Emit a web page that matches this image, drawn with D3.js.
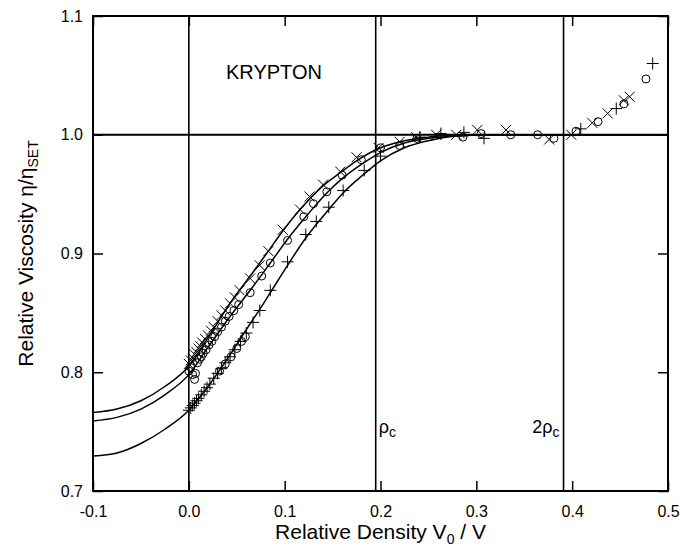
<!DOCTYPE html>
<html>
<head>
<meta charset="utf-8">
<script src="https://cdn.jsdelivr.net/npm/d3@7"></script>
<style>
  html, body { margin: 0; padding: 0; background: #fff; }
  svg { display: block; }
  text { font-family: "Liberation Sans", Arial, sans-serif; fill: #000; }
</style>
</head>
<body>
<div id="chart"></div>
<script>
// Krypton viscosity vs relative density

const xTicks = [-0.1, 0.0, 0.1, 0.2, 0.3, 0.4, 0.5];
const yTicks = [0.7, 0.8, 0.9, 1.0, 1.1];

// reference lines: zero density, rho_c, 2 rho_c, and eta/eta_SET = 1
const refX = [0.0, 0.195, 0.391];
const refY = [1.0];

// fitted curves [V0/V, eta/etaSET]
const curveUpper = [[-0.1,0.766],[-0.075,0.769],[-0.05,0.776],[-0.025,0.788],[0,0.805],[0.02,0.829],[0.043,0.858],[0.064,0.881],[0.083,0.902],[0.098,0.919],[0.116,0.937],[0.14,0.957],[0.158,0.968],[0.175,0.978],[0.2,0.989],[0.225,0.995],[0.25,0.998],[0.28,1.0],[0.32,1.0],[0.5,1.0]];
const curveMiddle = [[-0.1,0.759],[-0.075,0.762],[-0.05,0.769],[-0.025,0.781],[0,0.798],[0.02,0.821],[0.043,0.847],[0.064,0.869],[0.085,0.892],[0.103,0.912],[0.12,0.929],[0.144,0.951],[0.16,0.963],[0.18,0.975],[0.2,0.985],[0.225,0.993],[0.25,0.997],[0.28,0.999],[0.31,1.0],[0.5,1.0]];
const curveLower = [[-0.1,0.7295],[-0.075,0.732],[-0.05,0.74],[-0.025,0.752],[0,0.768],[0.02,0.788],[0.04,0.811],[0.06,0.836],[0.074,0.853],[0.085,0.867],[0.103,0.89],[0.122,0.913],[0.146,0.937],[0.161,0.951],[0.183,0.967],[0.2,0.978],[0.225,0.989],[0.25,0.995],[0.28,0.999],[0.32,1.0],[0.5,1.0]];

// measured points, one array per symbol
const timesPts = [[0.000,0.807],[0.002,0.810],[0.004,0.812],[0.006,0.815],[0.008,0.817],[0.010,0.820],[0.012,0.822],[0.014,0.825],[0.017,0.828],[0.020,0.831],[0.023,0.835],[0.026,0.838],[0.030,0.843],[0.034,0.848],[0.038,0.852],[0.043,0.858],[0.048,0.863],[0.053,0.869],[0.064,0.879],[0.074,0.890],[0.083,0.902],[0.098,0.920],[0.116,0.937],[0.126,0.948],[0.140,0.958],[0.158,0.969],[0.175,0.981],[0.198,0.989],[0.220,0.994],[0.237,0.998],[0.258,1.000],[0.279,1.000],[0.301,1.004],[0.331,1.004],[0.376,0.996],[0.399,1.000],[0.421,1.010],[0.437,1.018],[0.454,1.029],[0.460,1.032]];
const circlePts = [[0.000,0.801],[0.002,0.804],[0.004,0.798],[0.006,0.794],[0.007,0.799],[0.009,0.808],[0.011,0.811],[0.013,0.813],[0.015,0.816],[0.018,0.819],[0.021,0.823],[0.024,0.826],[0.027,0.830],[0.030,0.834],[0.034,0.838],[0.038,0.843],[0.042,0.847],[0.047,0.852],[0.052,0.857],[0.064,0.867],[0.076,0.881],[0.085,0.892],[0.103,0.911],[0.120,0.931],[0.130,0.942],[0.144,0.952],[0.160,0.966],[0.180,0.979],[0.200,0.989],[0.220,0.991],[0.238,0.997],[0.286,0.998],[0.305,1.001],[0.336,1.000],[0.364,1.000],[0.381,0.997],[0.404,1.003],[0.427,1.011],[0.454,1.026],[0.477,1.047],[0.032,0.801],[0.038,0.807],[0.044,0.813],[0.050,0.820],[0.055,0.826],[0.059,0.830]];
const plusPts = [[0.000,0.768],[0.002,0.770],[0.004,0.772],[0.006,0.774],[0.008,0.776],[0.010,0.778],[0.013,0.781],[0.016,0.784],[0.019,0.787],[0.022,0.790],[0.026,0.795],[0.030,0.799],[0.034,0.803],[0.038,0.808],[0.043,0.813],[0.048,0.819],[0.054,0.826],[0.060,0.833],[0.067,0.842],[0.074,0.852],[0.085,0.869],[0.103,0.893],[0.122,0.916],[0.133,0.927],[0.146,0.939],[0.161,0.953],[0.183,0.970],[0.200,0.982],[0.241,0.998],[0.263,1.001],[0.287,1.002],[0.308,0.997],[0.409,1.005],[0.446,1.022],[0.484,1.060]];

const config = {
  width: 682,
  height: 547,
  plot: { left: 93, right: 668, top: 16, bottom: 491 },
  fontSize: { tick: "16px", title: "21px", label: "20px", ref: "18px", sub: "14px" }
};

const svg = d3.select("#chart").append("svg")
  .attr("width", config.width)
  .attr("height", config.height)
  .style("background", "#ffffff");

const x = d3.scaleLinear().domain([-0.1, 0.5]).range([config.plot.left, config.plot.right]);
const y = d3.scaleLinear().domain([0.7, 1.1]).range([config.plot.bottom, config.plot.top]);

svg.append("clipPath").attr("id", "plot-clip")
  .append("rect")
  .attr("x", config.plot.left).attr("y", config.plot.top)
  .attr("width", config.plot.right - config.plot.left)
  .attr("height", config.plot.bottom - config.plot.top);

// axes with inward ticks; plain hyphen for negatives
const fmt = d => d3.format(".1f")(d).replace("\u2212", "-");
const bottomAxis = svg.append("g")
  .attr("transform", `translate(0,${config.plot.bottom})`)
  .call(d3.axisBottom(x).tickValues(xTicks).tickSize(-10).tickPadding(15).tickFormat(fmt));
const leftAxis = svg.append("g")
  .attr("transform", `translate(${config.plot.left},0)`)
  .call(d3.axisLeft(y).tickValues(yTicks).tickSize(-10).tickPadding(10).tickFormat(fmt));
const topAxis = svg.append("g")
  .attr("transform", `translate(0,${config.plot.top})`)
  .call(d3.axisTop(x).tickValues(xTicks).tickSize(-10).tickFormat(""));
const rightAxis = svg.append("g")
  .attr("transform", `translate(${config.plot.right},0)`)
  .call(d3.axisRight(y).tickValues(yTicks).tickSize(-10).tickFormat(""));

[bottomAxis, leftAxis, topAxis, rightAxis].forEach(a => {
  a.select(".domain").remove();
  a.selectAll(".tick line").attr("stroke", "#000").attr("stroke-width", 1.5);
  a.selectAll("text")
    .style("font-size", config.fontSize.tick)
    .style("font-family", "'Liberation Sans', Arial, sans-serif")
    .attr("fill", "#000");
});

// frame
svg.append("rect")
  .attr("x", config.plot.left).attr("y", config.plot.top)
  .attr("width", config.plot.right - config.plot.left)
  .attr("height", config.plot.bottom - config.plot.top)
  .attr("fill", "none")
  .attr("stroke", "#000")
  .attr("stroke-width", 2);

// reference lines
svg.append("g").selectAll("line")
  .data(refX)
  .join("line")
  .attr("x1", d => x(d)).attr("x2", d => x(d))
  .attr("y1", config.plot.top).attr("y2", config.plot.bottom)
  .attr("stroke", "#000").attr("stroke-width", 1.6);

svg.append("g").selectAll("line")
  .data(refY)
  .join("line")
  .attr("x1", config.plot.left).attr("x2", config.plot.right)
  .attr("y1", d => y(d)).attr("y2", d => y(d))
  .attr("stroke", "#000").attr("stroke-width", 1.8);

// fitted curves
const line = d3.line()
  .x(d => x(d[0]))
  .y(d => y(d[1]))
  .curve(d3.curveMonotoneX);

svg.append("g")
  .attr("clip-path", "url(#plot-clip)")
  .selectAll("path")
  .data([curveUpper, curveMiddle, curveLower])
  .join("path")
  .attr("d", line)
  .attr("fill", "none")
  .attr("stroke", "#000")
  .attr("stroke-width", 1.5);

// markers
const arm = 5;
const markers = svg.append("g").attr("stroke", "#000").attr("fill", "none").attr("stroke-width", 1);

markers.selectAll(".times")
  .data(timesPts)
  .join("path")
  .attr("class", "times")
  .attr("d", d => {
    const cx = x(d[0]), cy = y(d[1]);
    return `M${cx - arm},${cy - arm}L${cx + arm},${cy + arm}M${cx - arm},${cy + arm}L${cx + arm},${cy - arm}`;
  });

markers.selectAll(".circ")
  .data(circlePts)
  .join("circle")
  .attr("class", "circ")
  .attr("cx", d => x(d[0]))
  .attr("cy", d => y(d[1]))
  .attr("r", 4);

markers.selectAll(".plus")
  .data(plusPts)
  .join("path")
  .attr("class", "plus")
  .attr("d", d => {
    const cx = x(d[0]), cy = y(d[1]);
    return `M${cx - arm - 1},${cy}L${cx + arm + 1},${cy}M${cx},${cy - arm - 1}L${cx},${cy + arm + 1}`;
  });

// labels inside the plot
svg.append("text")
  .attr("x", 226).attr("y", 79)
  .style("font-size", config.fontSize.label)
  .text("KRYPTON");

const rho = svg.append("text")
  .attr("x", x(refX[1]) + 3).attr("y", 433)
  .style("font-size", config.fontSize.ref);
rho.append("tspan").text("ρ");
rho.append("tspan").attr("dy", 4).style("font-size", config.fontSize.sub).text("c");

const rho2 = svg.append("text")
  .attr("x", x(refX[2]) - 4).attr("y", 433)
  .attr("text-anchor", "end")
  .style("font-size", config.fontSize.ref);
rho2.append("tspan").text("2ρ");
rho2.append("tspan").attr("dy", 4).style("font-size", config.fontSize.sub).text("c");

// axis titles
const xTitle = svg.append("text")
  .attr("x", (config.plot.left + config.plot.right) / 2)
  .attr("y", 539)
  .attr("text-anchor", "middle")
  .style("font-size", config.fontSize.title);
xTitle.append("tspan").text("Relative Density V");
xTitle.append("tspan").attr("dy", 5).style("font-size", config.fontSize.sub).text("0");
xTitle.append("tspan").attr("dy", -5).text(" / V");

const yTitle = svg.append("text")
  .attr("transform", `translate(33,${(config.plot.top + config.plot.bottom) / 2}) rotate(-90)`)
  .attr("text-anchor", "middle")
  .style("font-size", config.fontSize.title);
yTitle.append("tspan").text("Relative Viscosity η/η");
yTitle.append("tspan").attr("dy", 5).style("font-size", config.fontSize.sub).text("SET");
</script>
</body>
</html>
